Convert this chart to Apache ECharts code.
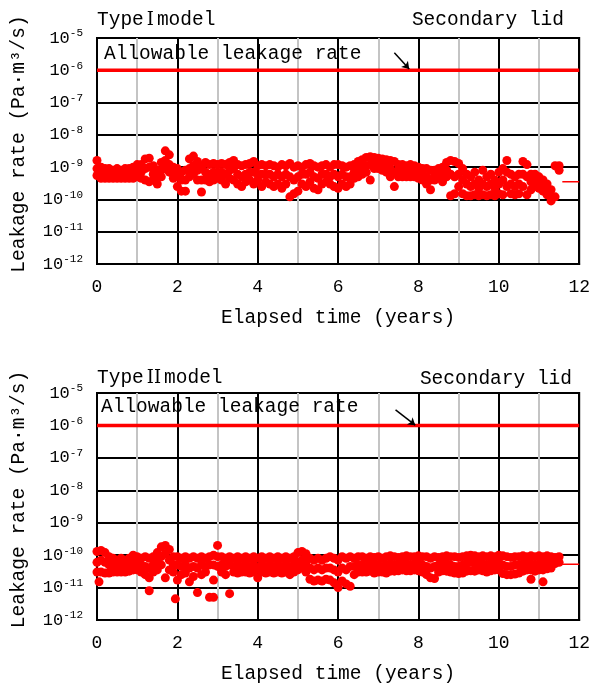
<!DOCTYPE html>
<html>
<head>
<meta charset="utf-8">
<script src="https://cdn.jsdelivr.net/npm/echarts@6/dist/echarts.min.js"></script>
<style>
  html, body { margin: 0; padding: 0; background: #fff; }
  #chart { width: 593px; height: 689px; }
</style>
</head>
<body>
<div id="chart"></div>
<script>
// readings: [years, leakage rate, leakage rate, ...]
var typeOneRows = [
    [0.0, 1.6e-9, 9e-10, 5.5e-10], [0.1, 1.0e-9, 7e-10, 4.5e-10], [0.2, 9e-10, 6e-10, 4.5e-10],
    [0.3, 9e-10, 6e-10, 4.5e-10], [0.4, 8e-10, 6e-10, 4.5e-10], [0.5, 9e-10, 6e-10, 4.5e-10],
    [0.6, 8e-10, 6e-10, 4.5e-10], [0.7, 9e-10, 6e-10, 4.5e-10], [0.8, 9e-10, 6e-10, 4.5e-10],
    [0.9, 1.0e-9, 6.5e-10, 4.5e-10], [1.0, 1.2e-9, 7e-10, 5e-10], [1.1, 1.2e-9, 7e-10, 4.5e-10],
    [1.2, 1.8e-9, 9e-10, 4e-10], [1.3, 1.9e-9, 1.0e-9, 3.5e-10], [1.4, 1.1e-9, 6e-10, 4e-10],
    [1.5, 8e-10, 5e-10, 3e-10], [1.6, 1.4e-9, 8e-10, 5e-10], [1.7, 3.2e-9, 1.6e-9, 9e-10],
    [1.8, 2.4e-9, 1.2e-9, 7e-10], [1.9, 1.0e-9, 6e-10, 4.5e-10], [2.0, 9e-10, 5e-10, 2.5e-10],
    [2.1, 7e-10, 4e-10, 1.8e-10], [2.2, 8e-10, 4e-10, 1.8e-10], [2.3, 1.8e-9, 9e-10, 5e-10],
    [2.4, 2.2e-9, 1.1e-9, 6e-10], [2.5, 1.5e-9, 8e-10, 4e-10], [2.6, 1.0e-9, 4e-10, 1.7e-10],
    [2.7, 1.4e-9, 7e-10, 4e-10], [2.8, 1.2e-9, 6e-10, 3.5e-10], [2.9, 1.3e-9, 7e-10, 4e-10],
    [3.0, 1.2e-9, 7e-10, 4.5e-10], [3.1, 1.3e-9, 7e-10, 4e-10], [3.2, 1.2e-9, 6e-10, 3e-10],
    [3.3, 1.4e-9, 8e-10, 4.5e-10], [3.4, 1.6e-9, 9e-10, 4e-10], [3.5, 1.2e-9, 6e-10, 3e-10],
    [3.6, 1.1e-9, 5e-10, 2.5e-10], [3.7, 1.2e-9, 6e-10, 3.5e-10], [3.8, 1.3e-9, 7e-10, 4e-10],
    [3.9, 1.5e-9, 7e-10, 3e-10], [4.0, 1.1e-9, 6e-10, 4e-10], [4.1, 1.2e-9, 6e-10, 2.5e-10],
    [4.2, 1.1e-9, 6e-10, 3.5e-10], [4.3, 1.2e-9, 6e-10, 3e-10], [4.4, 1.1e-9, 5e-10, 2.5e-10],
    [4.5, 1.0e-9, 6e-10, 3e-10], [4.6, 1.2e-9, 5e-10, 2.2e-10], [4.7, 1.1e-9, 6e-10, 3e-10],
    [4.8, 1.3e-9, 5e-10, 1.2e-10], [4.9, 1.0e-9, 4e-10, 1.5e-10], [5.0, 1.1e-9, 5e-10, 1.8e-10],
    [5.1, 1.0e-9, 6e-10, 3e-10], [5.2, 1.2e-9, 6e-10, 2.5e-10], [5.3, 1.3e-9, 7e-10, 3.5e-10],
    [5.4, 1.1e-9, 5e-10, 2.2e-10], [5.5, 1.0e-9, 4.5e-10, 2.0e-10], [5.6, 1.1e-9, 6e-10, 3e-10],
    [5.7, 1.2e-9, 6e-10, 3.5e-10], [5.8, 1.0e-9, 5e-10, 3e-10], [5.9, 1.2e-9, 6e-10, 2.5e-10],
    [6.0, 1.2e-9, 5e-10, 2.2e-10], [6.1, 1.1e-9, 6e-10, 3e-10], [6.2, 1.0e-9, 5e-10, 2.5e-10],
    [6.3, 1.1e-9, 5e-10, 3e-10], [6.4, 1.2e-9, 7e-10, 4.5e-10], [6.5, 1.5e-9, 8e-10, 5e-10],
    [6.6, 1.7e-9, 1.0e-9, 6e-10], [6.7, 2.0e-9, 1.1e-9, 7e-10], [6.8, 2.1e-9, 1.2e-9, 4e-10],
    [6.9, 2.0e-9, 1.3e-9, 9e-10], [7.0, 1.9e-9, 1.3e-9, 9e-10], [7.1, 1.8e-9, 1.2e-9, 8e-10],
    [7.2, 1.7e-9, 1.0e-9, 7e-10], [7.3, 1.6e-9, 9e-10, 5e-10], [7.4, 1.5e-9, 7e-10, 2.5e-10],
    [7.5, 1.2e-9, 8e-10, 5e-10], [7.6, 1.2e-9, 8e-10, 5e-10], [7.7, 1.1e-9, 7e-10, 5e-10],
    [7.8, 1.2e-9, 8e-10, 5e-10], [7.9, 1.1e-9, 7e-10, 5e-10], [8.0, 1.0e-9, 7e-10, 4.5e-10],
    [8.1, 9e-10, 6e-10, 4e-10], [8.2, 9e-10, 5e-10, 3e-10], [8.3, 8e-10, 4e-10, 2.0e-10],
    [8.4, 8e-10, 5.5e-10, 4e-10], [8.5, 9e-10, 6e-10, 4.5e-10], [8.6, 1.0e-9, 6e-10, 3.5e-10],
    [8.7, 1.4e-9, 8e-10, 5e-10], [8.8, 1.6e-9, 6e-10, 1.3e-10], [8.9, 1.5e-9, 5e-10, 1.5e-10],
    [9.0, 1.3e-9, 6e-10, 2.5e-10], [9.1, 9e-10, 4e-10, 1.5e-10], [9.2, 6e-10, 3e-10, 1.3e-10],
    [9.3, 5e-10, 2.5e-10, 1.3e-10], [9.4, 7e-10, 3e-10, 1.4e-10], [9.5, 4e-10, 2.2e-10, 1.3e-10],
    [9.6, 8e-10, 3e-10, 1.4e-10], [9.7, 5e-10, 2.5e-10, 1.3e-10], [9.8, 6e-10, 3e-10, 1.4e-10],
    [9.9, 4e-10, 2.2e-10, 1.3e-10], [10.0, 7e-10, 3e-10, 1.5e-10], [10.1, 9e-10, 4e-10, 1.4e-10],
    [10.2, 1.6e-9, 7e-10, 2.5e-10], [10.3, 6e-10, 3e-10, 1.5e-10], [10.4, 5e-10, 2.5e-10, 1.4e-10],
    [10.5, 6e-10, 3e-10, 1.5e-10], [10.6, 1.5e-9, 6e-10, 2.5e-10], [10.7, 1.2e-9, 5e-10, 1.4e-10],
    [10.8, 6e-10, 3.5e-10, 2e-10], [10.9, 6e-10, 4e-10, 2.5e-10], [11.0, 5e-10, 3.5e-10, 2.2e-10],
    [11.1, 4e-10, 2.5e-10, 1.8e-10], [11.2, 3e-10, 2e-10, 1.4e-10], [11.3, 2e-10, 1.3e-10, 9e-11],
    [11.4, 1.1e-9, 1.2e-10], [11.5, 1.1e-9, 8e-10]
];

var typeTwoRows = [
    [0.0, 1.3e-10, 6e-11, 3e-11], [0.05, 1.5e-11], [0.1, 1.4e-10, 7e-11, 3e-11],
    [0.2, 1.2e-10, 6e-11, 2.8e-11], [0.3, 9e-11, 5e-11, 2.8e-11], [0.4, 8e-11, 5e-11, 3e-11],
    [0.5, 7e-11, 4.5e-11, 3e-11], [0.6, 8e-11, 5e-11, 3e-11], [0.7, 7e-11, 4.5e-11, 3e-11],
    [0.8, 8e-11, 5e-11, 3.2e-11], [0.9, 1.0e-10, 6e-11, 3.5e-11], [1.0, 9e-11, 5.5e-11, 3.5e-11],
    [1.1, 8e-11, 5e-11, 3e-11], [1.2, 9e-11, 4.5e-11, 2.5e-11], [1.3, 8e-11, 4e-11, 2e-11, 8e-12],
    [1.4, 9e-11, 5e-11, 3e-11], [1.5, 1.2e-10, 6e-11, 3.5e-11], [1.6, 1.8e-10, 9e-11, 5e-11],
    [1.7, 2.0e-10, 1.1e-10, 2e-11], [1.8, 1.5e-10, 7e-11, 3.5e-11], [1.9, 9e-11, 5e-11, 3e-11],
    [1.95, 4.5e-12], [2.0, 9e-11, 5e-11, 1.7e-11], [2.1, 8e-11, 4.5e-11, 2.5e-11],
    [2.2, 9e-11, 5e-11, 2.8e-11], [2.3, 8e-11, 4e-11, 1.5e-11], [2.4, 9e-11, 4.5e-11, 2.2e-11],
    [2.5, 8e-11, 4e-11, 7e-12], [2.6, 9e-11, 5e-11, 2.5e-11], [2.7, 8e-11, 4.5e-11, 3e-11],
    [2.8, 9e-11, 5e-11, 5e-12], [2.9, 1.0e-10, 5e-11, 1.7e-11, 5e-12], [3.0, 2.0e-10, 9e-11, 4.5e-11],
    [3.1, 9e-11, 5e-11, 3e-11], [3.2, 8e-11, 4.5e-11, 2.5e-11], [3.3, 9e-11, 5e-11, 6.5e-12],
    [3.4, 8e-11, 4.5e-11, 3e-11], [3.5, 9e-11, 5e-11, 2.8e-11], [3.6, 8e-11, 4.5e-11, 3e-11],
    [3.7, 9e-11, 5e-11, 3e-11], [3.8, 8e-11, 4.5e-11, 2.8e-11], [3.9, 9e-11, 5e-11, 3e-11],
    [4.0, 8e-11, 4e-11, 2e-11], [4.1, 9e-11, 5e-11, 3e-11], [4.2, 8e-11, 4.5e-11, 2.8e-11],
    [4.3, 9e-11, 5e-11, 3e-11], [4.4, 8e-11, 4.5e-11, 2.8e-11], [4.5, 9e-11, 5e-11, 3e-11],
    [4.6, 8e-11, 4.5e-11, 2.8e-11], [4.7, 9e-11, 5e-11, 3e-11], [4.8, 8e-11, 4.5e-11, 2.5e-11],
    [4.9, 9e-11, 5e-11, 3e-11], [5.0, 1.2e-10, 6e-11, 3.5e-11], [5.1, 1.3e-10, 7e-11, 4e-11],
    [5.2, 1.1e-10, 6e-11, 3e-11], [5.3, 8e-11, 4e-11, 1.8e-11], [5.4, 7e-11, 3.5e-11, 1.6e-11],
    [5.5, 8e-11, 4e-11, 1.7e-11], [5.6, 7e-11, 3.5e-11, 1.6e-11], [5.7, 8e-11, 4e-11, 1.8e-11],
    [5.8, 9e-11, 4e-11, 1.7e-11], [5.9, 8e-11, 3.5e-11, 1.4e-11], [6.0, 7e-11, 3e-11, 1.0e-11],
    [6.1, 9e-11, 4e-11, 1.6e-11], [6.2, 8e-11, 3.5e-11, 1.3e-11], [6.3, 9e-11, 4.5e-11, 1.1e-11],
    [6.4, 8e-11, 4.5e-11, 2.5e-11], [6.5, 9e-11, 5e-11, 3e-11], [6.6, 9e-11, 5e-11, 3e-11],
    [6.7, 8e-11, 4.5e-11, 3e-11], [6.8, 9e-11, 5.5e-11, 3.2e-11], [6.9, 8.5e-11, 5e-11, 2.8e-11],
    [7.0, 9e-11, 5e-11, 3e-11], [7.1, 8e-11, 4.5e-11, 3e-11], [7.2, 9e-11, 5e-11, 2.8e-11],
    [7.3, 9.5e-11, 5.5e-11, 3.2e-11], [7.4, 9e-11, 5e-11, 3.2e-11], [7.5, 8.5e-11, 5e-11, 3.3e-11],
    [7.6, 9e-11, 5.5e-11, 3.5e-11], [7.7, 9.5e-11, 5.5e-11, 3.3e-11], [7.8, 9e-11, 5e-11, 3.3e-11],
    [7.9, 9e-11, 5.5e-11, 3.5e-11], [8.0, 9.5e-11, 5.5e-11, 3.3e-11], [8.1, 9e-11, 5e-11, 3e-11],
    [8.2, 9e-11, 4.5e-11, 2.5e-11], [8.3, 8e-11, 4e-11, 2e-11], [8.4, 9e-11, 4.5e-11, 1.9e-11],
    [8.5, 8.5e-11, 5e-11, 3e-11], [8.6, 9e-11, 5.5e-11, 3.3e-11], [8.7, 9.5e-11, 5.5e-11, 3.2e-11],
    [8.8, 9e-11, 5e-11, 3e-11], [8.9, 9e-11, 4.5e-11, 2.8e-11], [9.0, 8.5e-11, 4.5e-11, 2.7e-11],
    [9.1, 9e-11, 5e-11, 2.8e-11], [9.2, 9.5e-11, 5.5e-11, 3.2e-11], [9.3, 1.0e-10, 6e-11, 3.3e-11],
    [9.4, 9.5e-11, 5.5e-11, 3.2e-11], [9.5, 9e-11, 5.5e-11, 3.5e-11], [9.6, 9.5e-11, 5.5e-11, 3.3e-11],
    [9.7, 9e-11, 5e-11, 3e-11], [9.8, 9.5e-11, 5.5e-11, 3.3e-11], [9.9, 9e-11, 5.5e-11, 3.5e-11],
    [10.0, 1.0e-10, 6e-11, 3.5e-11], [10.1, 9.5e-11, 5e-11, 2.7e-11], [10.2, 9e-11, 4.5e-11, 2.5e-11],
    [10.3, 8.5e-11, 4.5e-11, 2.5e-11], [10.4, 9e-11, 5e-11, 2.6e-11], [10.5, 9e-11, 5e-11, 2.8e-11],
    [10.6, 9.5e-11, 5.5e-11, 3.2e-11], [10.7, 9e-11, 5.5e-11, 3.5e-11], [10.8, 9.5e-11, 5.5e-11, 3.5e-11, 1.8e-11],
    [10.9, 9e-11, 5e-11, 3.2e-11], [11.0, 9.5e-11, 5.5e-11, 3.5e-11], [11.1, 9e-11, 5.5e-11, 3.5e-11, 1.5e-11],
    [11.2, 9.5e-11, 6e-11, 3.8e-11], [11.3, 9e-11, 6e-11, 4e-11], [11.4, 8.5e-11, 5.5e-11],
    [11.5, 9e-11, 6e-11]
];

var allowableRate = [[0, 1e-6], [12, 1e-6]];
var typeOneTrend = [[11.58, 3.5e-10], [12, 3.5e-10]];
var typeTwoTrend = [[11.5, 5.2e-11], [12, 5.2e-11]];
var typeOneArrow = [[7.40, 3.5e-6], [7.77, 1.1e-6]];
var typeTwoArrow = [[7.43, 3.0e-6], [7.92, 1.02e-6]];

var mono = 'Liberation Mono';

var expand = function (rows) {
    var out = [];
    rows.forEach(function (r) {
        for (var i = 1; i < r.length; i++) out.push([r[0], r[i]]);
    });
    return out;
};

var makeX = function (idx) {
    return {
        type: 'value', gridIndex: idx, min: 0, max: 12, interval: 2,
        name: 'Elapsed time (years)', nameLocation: 'middle', nameGap: 44,
        nameTextStyle: { fontFamily: mono, fontSize: 19.5, color: '#000' },
        axisLine: { lineStyle: { color: '#000', width: 2 } },
        axisTick: { show: false },
        axisLabel: { fontFamily: mono, fontSize: 18, color: '#000', margin: 14 },
        splitLine: { lineStyle: { color: '#000', width: 2 } },
        minorTick: { show: false, splitNumber: 2 },
        minorSplitLine: { show: true, lineStyle: { color: '#c4c4c4', width: 2 } }
    };
};

var makeY = function (idx) {
    return {
        type: 'log', logBase: 10, gridIndex: idx, min: 1e-12, max: 1e-5, splitNumber: 7,
        name: 'Leakage rate (Pa·m³/s)', nameLocation: 'middle', nameGap: 68,
        nameTextStyle: { fontFamily: mono, fontSize: 19.5, color: '#000', padding: [0, 0, 0, 14] },
        axisLine: { lineStyle: { color: '#000', width: 2 } },
        axisTick: { show: false },
        axisLabel: {
            margin: 14,
            formatter: function (v) {
                return '{num|10}{sup|' + Math.round(Math.log10(v)) + '}';
            },
            rich: {
                num: { fontFamily: mono, fontSize: 17, color: '#000', lineHeight: 20 },
                sup: { fontFamily: mono, fontSize: 11, color: '#000', lineHeight: 11, verticalAlign: 'top' }
            }
        },
        splitLine: { lineStyle: { color: '#000', width: 2 } }
    };
};

var makeSeries = function (idx, rows, trend, arrow) {
    return [
        {
            type: 'scatter', xAxisIndex: idx, yAxisIndex: idx, data: expand(rows),
            symbol: 'circle', symbolSize: 9, itemStyle: { color: '#ff0000', opacity: 1 }, silent: true
        },
        {
            type: 'line', xAxisIndex: idx, yAxisIndex: idx, data: trend, showSymbol: false,
            lineStyle: { color: '#ff0000', width: 1.5 }, silent: true
        },
        {
            type: 'line', xAxisIndex: idx, yAxisIndex: idx, data: allowableRate, showSymbol: false,
            lineStyle: { color: '#ff0000', width: 3.5 }, silent: true,
            markLine: {
                silent: true, symbol: ['none', 'arrow'], symbolSize: 7,
                label: { show: false },
                lineStyle: { color: '#000', width: 1.5, type: 'solid' },
                data: [[{ coord: arrow[0] }, { coord: arrow[1] }]]
            }
        }
    ];
};

var titleStyle = { fontFamily: mono, fontSize: 19.5, fontWeight: 'normal', color: '#000' };
var typeTitleStyle = {
    fontFamily: mono, fontSize: 19.5, fontWeight: 'normal', color: '#000',
    rich: {
        t: { fontFamily: mono, fontSize: 19.5, color: '#000' },
        n: { fontFamily: 'DejaVu Serif', fontSize: 18, color: '#000', padding: [0, 3, 0, 3] }
    }
};

var myChart = echarts.init(document.getElementById('chart'));
var option = {
    animation: false,
    title: [
        { text: '{t|Type}{n|I}{t|model}', left: 97, top: 10, padding: 0, textStyle: typeTitleStyle },
        { text: 'Secondary lid', right: 29, top: 10, padding: 0, textStyle: titleStyle },
        { text: 'Allowable leakage rate', left: 104, top: 44, padding: 0, textStyle: titleStyle },
        { text: '{t|Type}{n|II}{t|model}', left: 97, top: 368, padding: 0, textStyle: typeTitleStyle },
        { text: 'Secondary lid', right: 21, top: 369, padding: 0, textStyle: titleStyle },
        { text: 'Allowable leakage rate', left: 101, top: 397, padding: 0, textStyle: titleStyle }
    ],
    grid: [
        { left: 97, top: 38, right: 11, height: 226, show: true, borderColor: '#000', borderWidth: 2 },
        { left: 97, top: 393, right: 11, height: 227, show: true, borderColor: '#000', borderWidth: 2 }
    ],
    xAxis: [makeX(0), makeX(1)],
    yAxis: [makeY(0), makeY(1)],
    series: makeSeries(0, typeOneRows, typeOneTrend, typeOneArrow)
        .concat(makeSeries(1, typeTwoRows, typeTwoTrend, typeTwoArrow))
};
myChart.setOption(option);
</script>
</body>
</html>
